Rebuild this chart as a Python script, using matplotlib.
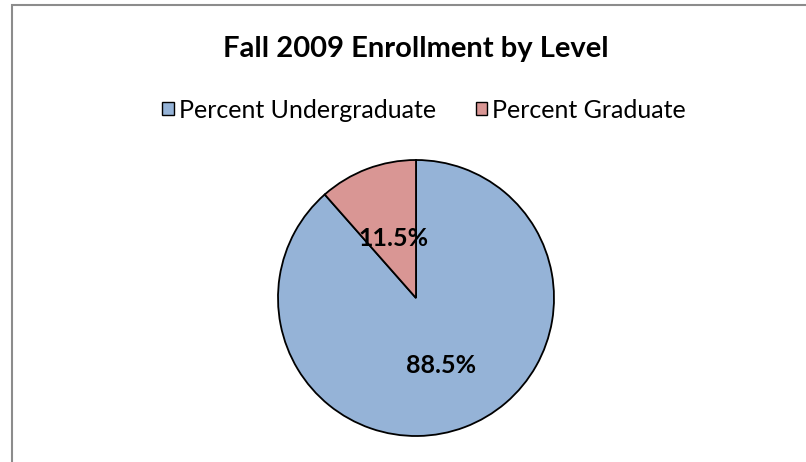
import matplotlib
matplotlib.use("Agg")
import matplotlib.pyplot as plt
from matplotlib.patches import Rectangle

categories = ["Percent Undergraduate", "Percent Graduate"]
values = [88.5, 11.5]
colors = ["#95b3d7", "#d99694"]
title = "Fall 2009 Enrollment by Level"

plt.rcParams['font.family'] = ['Lato', 'DejaVu Sans']

fig = plt.figure(figsize=(8.06, 4.62), dpi=100)
fig.patch.set_facecolor("white")

# outer chart border (only left and top visible)
fig.patches.append(Rectangle((12/806, -0.5), 2, (462-5)/462 + 0.5,
                             transform=fig.transFigure, fill=False,
                             edgecolor="#8c8c8c", linewidth=1.5))

ax = fig.add_axes([(416-138)/806, (164-138)/462, 276/806, 276/462])
wedges, texts, autotexts = ax.pie(values, colors=colors, startangle=90, counterclock=False,
                                  autopct=lambda p: f"{p:.1f}%", pctdistance=0.52,
                                  wedgeprops=dict(edgecolor="black", linewidth=1.3),
                                  textprops=dict(fontsize=18, fontweight="bold", color="black"))
x, y = autotexts[1].get_position()
autotexts[1].set_position((x*0.9, y*0.88))
ax.set_xlim(-1, 1)
ax.set_ylim(-1, 1)
ax.set_aspect("equal")

fig.text(416/806, 1 - 49/462, title, ha="center", va="center", fontsize=21, fontweight="bold")

leg = fig.legend(wedges, categories, loc="center", bbox_to_anchor=(424/806, 1 - 110/462),
                 ncol=2, frameon=False, fontsize=18, handlelength=0.47, handleheight=0.47,
                 handletextpad=0.2, columnspacing=1.6)
for h in leg.legend_handles:
    h.set_edgecolor("black")
    h.set_linewidth(1.0)

fig.savefig("out.png", dpi=100, facecolor="white")
